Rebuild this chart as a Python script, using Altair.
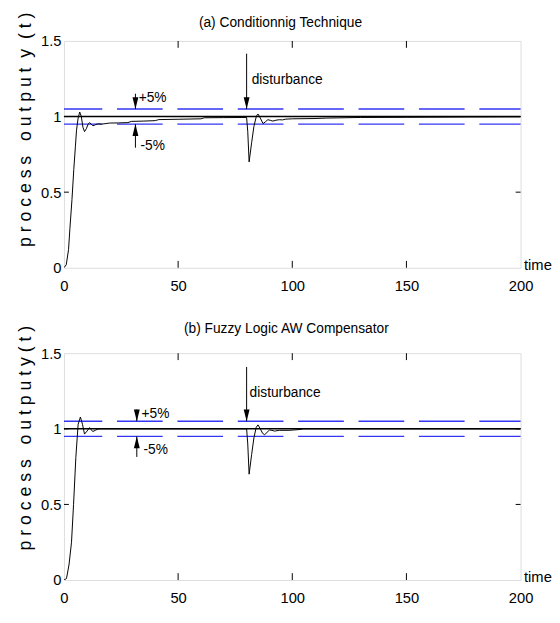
import altair as alt
import pandas as pd

FONT = "Liberation Sans, Arial, sans-serif"
NB = "\u00a0"

# ---------------- data ----------------
# (a) Conditioning technique
t_a = [0, 1, 2, 2.6, 3.5, 4.3, 5, 5.5, 6.2, 6.9, 7.6, 8.3, 9, 9.8, 10.6, 11.2,
       11.9, 12.6, 13.3, 14, 15, 16.5, 18, 20, 24, 28, 29.5, 35, 40, 41.5, 50,
       60, 61.5, 70, 80, 80.5, 81.1, 82.2, 83.2, 84.3, 85, 86, 87.2, 88.2, 89.3,
       90.4, 91.5, 92.9, 94.3, 95.7, 97.2, 100, 110, 115, 130, 150, 178, 200]
y_a = [0, 0.02, 0.12, 0.26, 0.45, 0.65, 0.8, 0.91, 0.99, 1.03, 1.0, 0.93, 0.90,
       0.92, 0.95, 0.96, 0.95, 0.94, 0.942, 0.948, 0.952, 0.95, 0.953, 0.957,
       0.958, 0.96, 0.968, 0.97, 0.973, 0.98, 0.982, 0.985, 0.992, 0.993, 0.994,
       0.9, 0.70, 0.827, 0.935, 1.004, 1.017, 0.99, 0.953, 0.965, 0.979, 0.975,
       0.97, 0.976, 0.979, 0.978, 0.983, 0.985, 0.987, 0.99, 0.994, 0.995,
       0.997, 0.998]

# (b) Fuzzy logic AW compensator
t_b = [0, 1.1, 2.2, 3.3, 4.2, 5.2, 6.2, 7.2, 8.1, 9, 10.1, 11.2, 11.9, 12.6,
       13.7, 14.8, 16, 80, 80.5, 81.1, 82.2, 83.2, 84.2, 85, 86, 87, 87.9, 90,
       91.1, 92.2, 94.3, 98.6, 103, 105, 200]
y_b = [0, 0.01, 0.1, 0.25, 0.5, 0.81, 1.03, 1.078, 1.03, 0.965, 0.985, 1.008,
       0.995, 0.982, 0.99, 0.998, 1.0, 1.0, 0.9, 0.70, 0.83, 0.94, 1.01, 1.026,
       1.0, 0.97, 0.961, 0.992, 0.99, 0.985, 0.99, 0.99, 0.995, 1.0, 1.0]

setpoint = 1.0
band_hi = 1.05
band_lo = 0.95
x_ticks = [0, 50, 100, 150, 200]
y_ticks = [0, 0.5, 1, 1.5]
inner_x_ticks = [50, 100, 150]
inner_y_ticks = [0.5, 1]

titles = ["(a) Conditionnig Technique", "(b) Fuzzy Logic AW Compensator"]
ylabels = [NB.join("process") + NB * 3 + NB.join("output") + NB * 2 + "y" + NB * 2 + NB.join("(t)"),
           NB.join("process") + NB * 3 + NB.join("outputy") + NB + NB.join("(t)")]
title_dx = [-12, -6]
title_dy = [-11, -18]
ytitle_y = [90, 86]

# annotations: (x_arrow, y_from, y_to, label, label_x, label_y)
ann_a = [(31.3, 1.151, band_hi, "+5%", 32.7, 1.119),
         (31.3, 0.794, band_lo, "-5%", 33.5, 0.805),
         (80.0, 1.416, band_hi, "disturbance", 82.2, 1.24)]
ann_b = [(31.9, 1.128, band_hi, "+5%", 34.0, 1.097),
         (31.9, 0.814, band_lo, "-5%", 34.8, 0.857),
         (80.0, 1.409, band_hi, "disturbance", 81.3, 1.236)]

W, H = 465, 231
BLUE = "#3535f5"

DOWN = "M-0.25,-1L0.25,-1L0,0Z"
UP = "M-0.25,1L0.25,1L0,0Z"


def panel(t, y, anns, i):
    xs = alt.Scale(domain=[0, 200], nice=False, zero=False)
    ys = alt.Scale(domain=[0, 1.5], nice=False)
    xax = alt.Axis(values=x_ticks, format="d", ticks=False, tickSize=0, domain=False,
                   grid=False, labelFont=FONT, labelFontSize=15, labelPadding=11,
                   labelFlush=False, labelColor="black", title="time", titleFont=FONT,
                   titleFontSize=15, titleFontWeight="normal", titleColor="black",
                   titleX=W + 3, titleY=2, titleAlign="left", titleBaseline="alphabetic",
                   titleAngle=0)
    yax = alt.Axis(values=y_ticks, format="~g", ticks=False, tickSize=0, domain=False,
                   grid=False, labelFont=FONT, labelFontSize=15, labelPadding=3,
                   labelFlush=False, labelColor="black", title=ylabels[i], titleFont=FONT,
                   titleFontSize=18, titleFontWeight="normal", titleColor="black",
                   titleX=-39, titleY=ytitle_y[i], titleAngle=270, titleAlign="center",
                   titleBaseline="middle")

    df = pd.DataFrame({"t": t, "y": y})
    line = alt.Chart(df).mark_line(color="black", strokeWidth=1, clip=True).encode(
        x=alt.X("t:Q", scale=xs, axis=xax),
        y=alt.Y("y:Q", scale=ys, axis=yax),
    )
    one = pd.DataFrame({"v": [0]})
    sp = alt.Chart(one).mark_rule(color="black", strokeWidth=1.5).encode(
        y=alt.datum(setpoint, scale=ys))
    hi = alt.Chart(one).mark_rule(color=BLUE, strokeWidth=1.5, strokeDash=[46.5, 15],
                                  strokeDashOffset=4.5).encode(y=alt.datum(band_hi, scale=ys))
    lo = alt.Chart(one).mark_rule(color=BLUE, strokeWidth=1.5, strokeDash=[46.5, 15],
                                  strokeDashOffset=4.5).encode(y=alt.datum(band_lo, scale=ys))

    ttl = alt.Chart(pd.DataFrame({"title": [titles[i]]})).mark_text(
        align="center", baseline="bottom", font=FONT, fontSize=14, color="black"
    ).encode(x=alt.value(W / 2 + title_dx[i]), y=alt.value(title_dy[i]), text="title:N")

    xt = pd.DataFrame({"x": inner_x_ticks})
    yt = pd.DataFrame({"y": inner_y_ticks})
    tb = alt.Chart(xt).mark_rule(color="black", strokeWidth=1).encode(
        x=alt.X("x:Q", scale=xs), y=alt.value(H), y2=alt.value(H - 7))
    tt = alt.Chart(xt).mark_rule(color="black", strokeWidth=1).encode(
        x=alt.X("x:Q", scale=xs), y=alt.value(0), y2=alt.value(7))
    tl = alt.Chart(yt).mark_rule(color="black", strokeWidth=1).encode(
        y=alt.Y("y:Q", scale=ys), x=alt.value(0), x2=alt.value(5))
    tr = alt.Chart(yt).mark_rule(color="black", strokeWidth=1).encode(
        y=alt.Y("y:Q", scale=ys), x=alt.value(W), x2=alt.value(W - 5))

    adf = pd.DataFrame({
        "x": [a[0] for a in anns],
        "y1": [a[1] for a in anns],
        "y2": [a[2] for a in anns],
        "label": [a[3] for a in anns],
        "lx": [a[4] for a in anns],
        "ly": [a[5] for a in anns],
        "shape": [DOWN if a[2] < a[1] else UP for a in anns],
    })
    shafts = alt.Chart(adf).mark_rule(color="black", strokeWidth=1).encode(
        x=alt.X("x:Q", scale=xs), y=alt.Y("y1:Q", scale=ys), y2="y2:Q")
    heads = alt.Chart(adf).mark_point(filled=True, color="black", opacity=1, size=576,
                                      strokeWidth=0).encode(
        x=alt.X("x:Q", scale=xs), y=alt.Y("y2:Q", scale=ys),
        shape=alt.Shape("shape:N", scale=None))
    labels = alt.Chart(adf).mark_text(align="left", baseline="middle", font=FONT,
                                      fontSize=14, color="black").encode(
        x=alt.X("lx:Q", scale=xs), y=alt.Y("ly:Q", scale=ys), text="label:N")

    return alt.layer(hi, lo, sp, line, tb, tt, tl, tr, shafts, heads, labels, ttl).properties(
        width=W, height=H)


chart = alt.vconcat(panel(t_a, y_a, ann_a, 0), panel(t_b, y_b, ann_b, 1),
                    spacing=87, bounds="flush").properties(
    padding={"left": 8, "top": -3, "right": 0, "bottom": 0}
).configure_view(stroke="black", strokeWidth=1.5).configure(background="white")

chart.save("out.html", embed_options={"renderer": "svg", "actions": False})
